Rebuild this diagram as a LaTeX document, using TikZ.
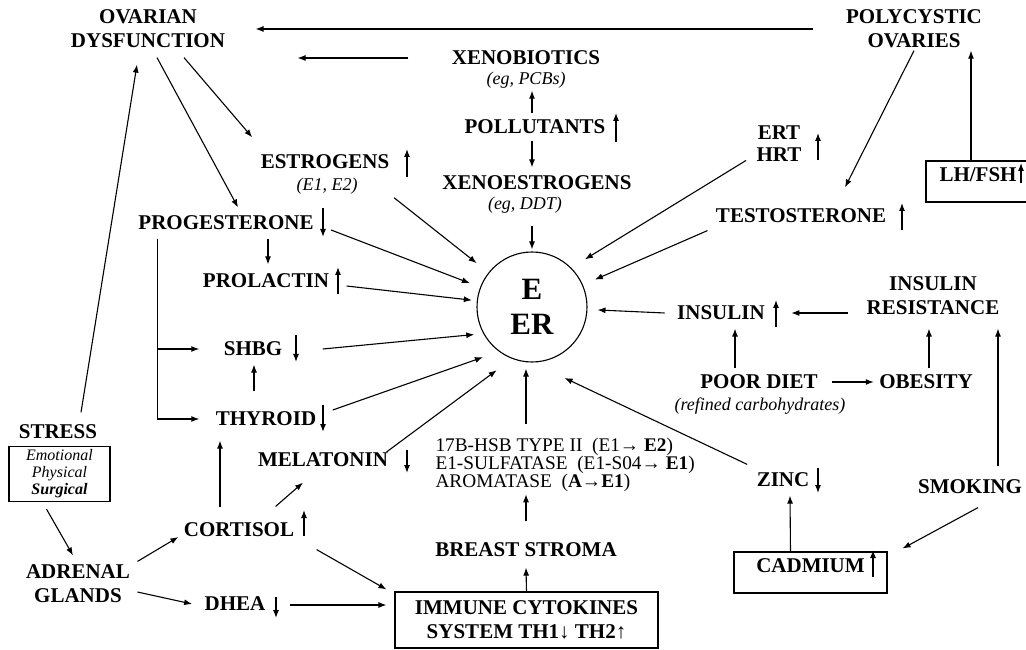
\documentclass[tikz,border=0pt]{standalone}
\usepackage{fontspec}
\setmainfont{Liberation Serif}
\usetikzlibrary{arrows.meta}

\begin{document}
\begin{tikzpicture}[x=1pt,y=1pt,->,>={Latex[length=8pt,width=6pt]},line width=1.1pt,
  lbl/.style={font=\bfseries\fontsize{21}{24}\selectfont,align=center,inner sep=2pt},
  sub/.style={font=\itshape\fontsize{18}{20}\selectfont,inner sep=2pt},
  box/.style={lbl,draw,rectangle}]

\useasboundingbox (0,0) rectangle (1026,649);

\node[lbl] (1) at (148,620) {OVARIAN\\DYSFUNCTION};
\node[lbl] (2) at (914,620) {POLYCYSTIC\\OVARIES};
\node[lbl] (3) at (526,591) {XENOBIOTICS};
\node[sub] (4) at (526,569) {(eg, PCBs)};
\node[lbl] (5) at (535,522) {POLLUTANTS};
\node[lbl] (6) at (537,466) {XENOESTROGENS};
\node[sub] (7) at (525,444) {(eg, DDT)};
\node[lbl] (8) at (325,487) {ESTROGENS};
\node[sub] (9) at (327,463) {(E1, E2)};
\node[lbl,font=\bfseries\fontsize{21}{22}\selectfont] (10) at (779,505) {ERT\\HRT};
\node[box,minimum width=104pt,text height=19pt,text depth=18pt] (11) at (978,467.5) {LH/FSH};
\node[lbl] (12) at (801,433) {TESTOSTERONE};
\node[lbl] (13) at (226,426) {PROGESTERONE};
\node[lbl] (14) at (266,368) {PROLACTIN};
\node[lbl] (15) at (253,300) {SHBG};
\node[lbl] (16) at (266,230) {THYROID};
\node[lbl] (17) at (323,189) {MELATONIN};
\node[circle,draw,minimum size=110pt,inner sep=0pt,align=center,font=\bfseries\fontsize{31}{35}\selectfont] (18) at (532,342) {E\\ER};
\node[lbl] (19) at (721,336) {INSULIN};
\node[lbl] (20) at (933,353) {INSULIN\\RESISTANCE};
\node[lbl] (21) at (759,267) {POOR DIET};
\node[sub] (22) at (760,243) {(refined carbohydrates)};
\node[lbl] (23) at (926,267) {OBESITY};
\node[lbl] (24) at (58,217) {STRESS};
\node[draw,minimum width=101pt,minimum height=52pt,align=center,font=\itshape\fontsize{16}{17}\selectfont] (25) at (59.5,175) {Emotional\\Physical\\\textbf{Surgical}};
\node[lbl] (26) at (78,65) {ADRENAL\\GLANDS};
\node[lbl] (27) at (239,119) {CORTISOL};
\node[lbl] (28) at (235,45) {DHEA};
\node[anchor=west,align=left,inner sep=2pt,font=\fontsize{19.3}{18}\selectfont] (29) at (433,184)
  {17B-HSB TYPE II~~(E1→ \textbf{E2})\\E1-SULFATASE~~(E1-S04→ \textbf{E1})\\AROMATASE~~(\textbf{A→E1})};
\node[lbl] (30) at (526,99) {BREAST STROMA};
\node[box,minimum width=263pt,minimum height=56pt] (31) at (526.5,29) {IMMUNE CYTOKINES\\SYSTEM TH1↓ TH2↑};
\node[lbl] (32) at (783,169) {ZINC};
\node[lbl] (33) at (970,162) {SMOKING};
\node[box,minimum width=153pt,text height=18pt,text depth=19pt] (34) at (810.5,76.5) {CADMIUM};

\foreach \x/\y/\l in {407/472/28, 616/507/29, 818/489/27, 1021/466/20, 902/419/27, 338/355/27, 776/322/27, 304/113/26, 873/72/27}
  \draw (\x,\y) -- ++(0,\l);
\foreach \x/\y/\l in {323/441/29, 296/314/27, 323/244/27, 407/199/23, 276/52/21, 818/181/25}
  \draw (\x,\y) -- ++(0,-\l);

\path
  ([xshift=-31pt]2.west) edge ([xshift=28pt]1.east)
  ([xshift=-41pt]3.west) edge ([shift={(70,-29)}]1.east)
  ([shift={(-3,4)}]5.north) edge ([xshift=6pt]4.south)
  ([shift={(-3,-4)}]5.south) edge ([shift={(-5,6)}]6.north)
  ([shift={(7,-10)}]7.south) edge[shorten >=2pt] (18)
  ([shift={(36,-7)}]1.south) edge ([shift={(-6,15)}]8.north west)
  ([shift={(9,-7)}]1.south) edge ([shift={(12,6)}]13.north)
  ([shift={(23,10)}]24.north) edge ([shift={(-11,-14)}]1.south)
  ([shift={(34,-1)}]9.south east) edge[shorten >=15pt] (18)
  ([shift={(-8,4)}]10.south west) edge[shorten >=16pt] (18.north east)
  (2.south) edge ([shift={(44,19)}]12.north)
  ([xshift=-7pt]11.north) edge ([xshift=57pt]2.south)
  ([shift={(-6,-5)}]12.south west) edge[shorten >=13pt] (18)
  ([shift={(-16,-17)}]20.west) edge ([xshift=24pt]19.east)
  ([xshift=-10pt]19.west) edge[shorten >=10pt] (18)
  ([shift={(-24,4)}]21.north) edge ([shift={(14,-6)}]19.south)
  ([xshift=12pt]21.east) edge ([xshift=-3pt]23.west)
  ([shift={(3,4)}]23.north) edge ([shift={(-4,-11)}]20.south)
  ([shift={(28,11)}]33.north) edge ([shift={(65,-11)}]20.south)
  ([shift={(8,-11)}]33.south) edge ([shift={(15,24)}]34.east)
  ([xshift=-20pt]34.north) edge ([shift={(7,-6)}]32.south)
  ([shift={(-7,6)}]32.north west) edge[shorten >=36pt] (18.south)
  (30.north |- 29.north) edge[shorten <=12pt,shorten >=6pt] (30.north |- 18.south)
  (30.north) edge[shorten <=19pt] (30.north |- 29.south)
  (31.north) edge ([yshift=-8pt]30.south)
  ([shift={(15,-7)}]13.east) edge[shorten >=11pt] (18)
  ([shift={(15,-5)}]14.east) edge[shorten >=5pt] (18)
  ([xshift=38pt]15.east) edge[shorten >=58pt] ([yshift=-22pt]18.center)
  ([shift={(14,9)}]16.east) edge[shorten >=52pt] ([yshift=-33pt]18.center)
  ([shift={(-4,8)}]17.east) edge[shorten >=44pt] ([yshift=-37pt]18.center)
  ([shift={(42,-6)}]13.south) edge ([shift={(2,7)}]14.north)
  ([shift={(-12,18)}]16.north) edge ([shift={(1,-6)}]15.south)
  ([shift={(-19,13)}]27.north) edge ([shift={(-46,-12)}]16.south)
  ([shift={(-21,14)}]27.north east) edge ([shift={(-20,-13)}]17.south)
  ([shift={(20,-10)}]27.south east) edge ([shift={(-8,2)}]31.north west)
  ([shift={(22,-1)}]28.east) edge ([shift={(-8,15)}]31.west)
  ([shift={(5,1)}]26.north east) edge ([shift={(-3,-7)}]27.west)
  ([shift={(5,-8)}]26.east) edge ([shift={(-10,0)}]28.west)
  ([shift={(-13,-7)}]25.south) edge ([shift={(-5,7)}]26.north);

\draw ([shift={(22,-6)}]13.south west) |- ([xshift=-14pt]16.west);
\draw ([shift={(22,-6)}]13.south west) |- ([xshift=-22pt]15.west);
\end{tikzpicture}
\end{document}
